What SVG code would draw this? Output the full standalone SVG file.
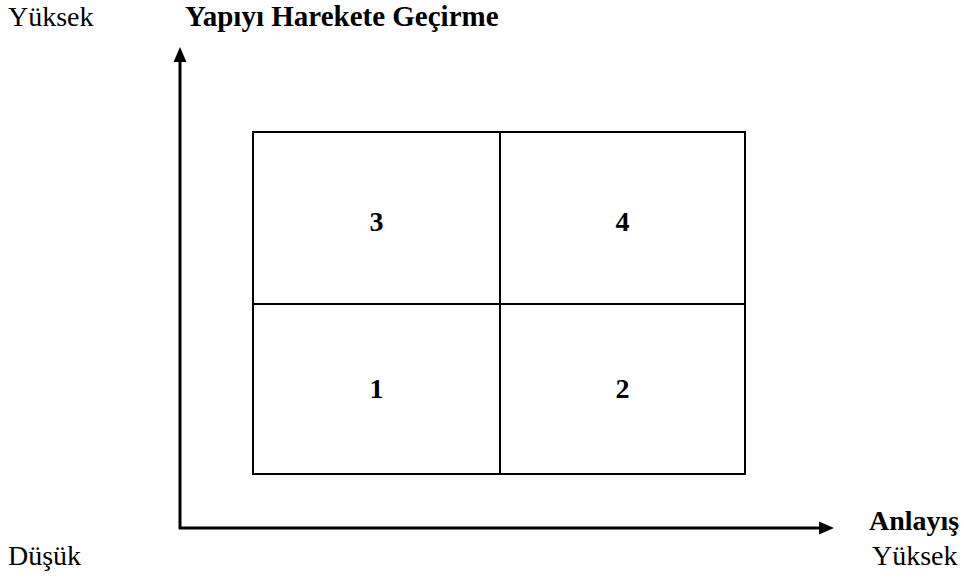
<svg xmlns="http://www.w3.org/2000/svg" width="964" height="578" viewBox="0 0 964 578">
<style>
.t{font-family:"Liberation Serif","Times New Roman",serif;font-size:28px;fill:#000}
.b{font-weight:bold}
.box{fill:none;stroke:#000;stroke-width:2}
.ax{fill:none;stroke:#000;stroke-width:3}
</style>
<rect width="964" height="578" fill="#fff"/>
<g id="labels">
<text class="t" x="8" y="26">Yüksek</text>
<text class="t b" x="185" y="26" style="font-size:29px">Yapıyı Harekete Geçirme</text>
<text class="t b" x="869" y="530">Anlayış</text>
<text class="t" x="8" y="565">Düşük</text>
<text class="t" x="872" y="565">Yüksek</text>
</g>
<g id="connectors">
<path class="ax" d="M180,529 V60 M179,528 H820"/>
<polygon points="180,47 173.5,62 186.5,62" fill="#000"/>
<polygon points="834,528 819,521.5 819,534.5" fill="#000"/>
</g>
<g id="q3"><rect class="box" x="253" y="132" width="247" height="172"/><text class="t b" x="376.5" y="231" text-anchor="middle">3</text></g>
<g id="q4"><rect class="box" x="500" y="132" width="245" height="172"/><text class="t b" x="622.5" y="231" text-anchor="middle">4</text></g>
<g id="q1"><rect class="box" x="253" y="304" width="247" height="170"/><text class="t b" x="376.5" y="398" text-anchor="middle">1</text></g>
<g id="q2"><rect class="box" x="500" y="304" width="245" height="170"/><text class="t b" x="622.5" y="398" text-anchor="middle">2</text></g>
</svg>
